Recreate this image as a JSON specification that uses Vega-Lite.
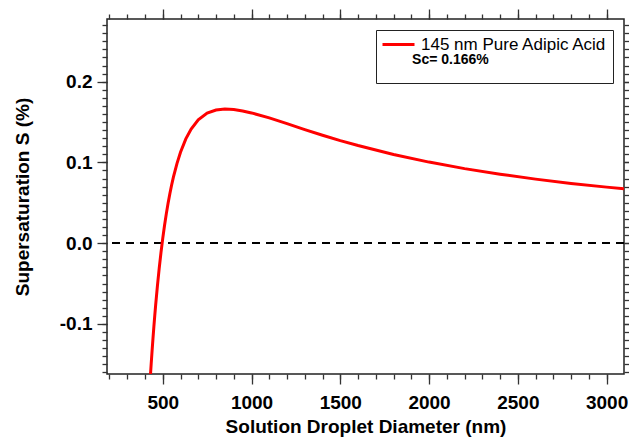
{
  "$schema": "https://vega.github.io/schema/vega-lite/v6.json",
  "autosize": {"type": "none"},
  "padding": {"left": 107, "top": 19, "right": 5, "bottom": 65},
  "width": 517,
  "height": 355,
  "background": "white",
  "config": {
    "font": "Liberation Sans",
    "view": {"stroke": "#222", "strokeWidth": 1.5},
    "axis": {
      "domain": false, "grid": false, "tickColor": "#333", "tickWidth": 1.3,
      "labelColor": "#000", "titleColor": "#000",
      "labelFont": "Liberation Sans", "titleFont": "Liberation Sans",
      "labelFontSize": 19, "labelFontWeight": "bold",
      "titleFontSize": 19, "titleFontWeight": "bold"
    },
    "legend": {
      "labelFont": "Liberation Sans", "titleFont": "Liberation Sans"
    }
  },
  "data": {
    "values": [
      {"d": 430, "s_pct": -0.1659, "series": "145 nm Pure Adipic Acid"},
      {"d": 435, "s_pct": -0.1490, "series": "145 nm Pure Adipic Acid"},
      {"d": 440, "s_pct": -0.1330, "series": "145 nm Pure Adipic Acid"},
      {"d": 445, "s_pct": -0.1178, "series": "145 nm Pure Adipic Acid"},
      {"d": 450, "s_pct": -0.1034, "series": "145 nm Pure Adipic Acid"},
      {"d": 455, "s_pct": -0.0898, "series": "145 nm Pure Adipic Acid"},
      {"d": 460, "s_pct": -0.0768, "series": "145 nm Pure Adipic Acid"},
      {"d": 470, "s_pct": -0.0529, "series": "145 nm Pure Adipic Acid"},
      {"d": 480, "s_pct": -0.0312, "series": "145 nm Pure Adipic Acid"},
      {"d": 490, "s_pct": -0.0117, "series": "145 nm Pure Adipic Acid"},
      {"d": 500, "s_pct": 0.0059, "series": "145 nm Pure Adipic Acid"},
      {"d": 510, "s_pct": 0.0219, "series": "145 nm Pure Adipic Acid"},
      {"d": 520, "s_pct": 0.0363, "series": "145 nm Pure Adipic Acid"},
      {"d": 530, "s_pct": 0.0494, "series": "145 nm Pure Adipic Acid"},
      {"d": 540, "s_pct": 0.0612, "series": "145 nm Pure Adipic Acid"},
      {"d": 550, "s_pct": 0.0720, "series": "145 nm Pure Adipic Acid"},
      {"d": 560, "s_pct": 0.0817, "series": "145 nm Pure Adipic Acid"},
      {"d": 580, "s_pct": 0.0986, "series": "145 nm Pure Adipic Acid"},
      {"d": 600, "s_pct": 0.1126, "series": "145 nm Pure Adipic Acid"},
      {"d": 630, "s_pct": 0.1292, "series": "145 nm Pure Adipic Acid"},
      {"d": 660, "s_pct": 0.1413, "series": "145 nm Pure Adipic Acid"},
      {"d": 700, "s_pct": 0.1527, "series": "145 nm Pure Adipic Acid"},
      {"d": 750, "s_pct": 0.1610, "series": "145 nm Pure Adipic Acid"},
      {"d": 800, "s_pct": 0.1648, "series": "145 nm Pure Adipic Acid"},
      {"d": 850, "s_pct": 0.1660, "series": "145 nm Pure Adipic Acid"},
      {"d": 900, "s_pct": 0.1654, "series": "145 nm Pure Adipic Acid"},
      {"d": 950, "s_pct": 0.1637, "series": "145 nm Pure Adipic Acid"},
      {"d": 1000, "s_pct": 0.1613, "series": "145 nm Pure Adipic Acid"},
      {"d": 1100, "s_pct": 0.1551, "series": "145 nm Pure Adipic Acid"},
      {"d": 1200, "s_pct": 0.1480, "series": "145 nm Pure Adipic Acid"},
      {"d": 1300, "s_pct": 0.1407, "series": "145 nm Pure Adipic Acid"},
      {"d": 1400, "s_pct": 0.1337, "series": "145 nm Pure Adipic Acid"},
      {"d": 1500, "s_pct": 0.1270, "series": "145 nm Pure Adipic Acid"},
      {"d": 1600, "s_pct": 0.1209, "series": "145 nm Pure Adipic Acid"},
      {"d": 1800, "s_pct": 0.1098, "series": "145 nm Pure Adipic Acid"},
      {"d": 2000, "s_pct": 0.1004, "series": "145 nm Pure Adipic Acid"},
      {"d": 2200, "s_pct": 0.0923, "series": "145 nm Pure Adipic Acid"},
      {"d": 2400, "s_pct": 0.0854, "series": "145 nm Pure Adipic Acid"},
      {"d": 2600, "s_pct": 0.0793, "series": "145 nm Pure Adipic Acid"},
      {"d": 2800, "s_pct": 0.0740, "series": "145 nm Pure Adipic Acid"},
      {"d": 3000, "s_pct": 0.0694, "series": "145 nm Pure Adipic Acid"},
      {"d": 3098, "s_pct": 0.0674, "series": "145 nm Pure Adipic Acid"}
    ]
  },
  "layer": [
    {
      "mark": {"type": "rule", "strokeDash": [8, 6], "color": "#000", "strokeWidth": 1.3},
      "encoding": {
        "y": {"datum": 0, "type": "quantitative", "axis": null}
      }
    },
    {
      "mark": {"type": "line", "strokeWidth": 3, "clip": true},
      "encoding": {
        "x": {
          "field": "d", "type": "quantitative",
          "scale": {"domain": [186, 3098], "nice": false, "zero": false},
          "axis": {
            "orient": "bottom", "values": [500, 1000, 1500, 2000, 2500, 3000],
            "tickSize": 10, "labelPadding": 9, "format": "d",
            "title": "Solution Droplet Diameter (nm)", "titlePadding": 5
          }
        },
        "y": {
          "field": "s_pct", "type": "quantitative",
          "scale": {"domain": [-0.162, 0.2776], "nice": false, "zero": false},
          "axis": {
            "orient": "left", "values": [-0.1, 0, 0.1, 0.2],
            "tickSize": 10, "labelPadding": 5, "format": ".1f",
            "labelExpr": "replace(datum.label, '\u2212', '-')",
            "title": "Supersaturation S (%)", "titlePadding": 27
          }
        },
        "color": {
          "field": "series", "type": "nominal",
          "scale": {"range": ["#ff0000"]},
          "legend": {
            "orient": "top-right", "offset": 11,
            "title": ["\u200b\u00a0\u00a0\u00a0\u00a0\u00a0\u00a0\u00a0\u00a0Sc= 0.166%", "\u200b\u00a0"],
            "titleOrient": "bottom", "titleAnchor": "start",
            "titleFontSize": 14, "titleFontWeight": "bold", "titleColor": "#000",
            "titlePadding": 0, "titleLineHeight": 11,
            "labelFontSize": 17, "labelColor": "#000", "labelFontWeight": "normal",
            "labelOffset": 21, "labelLimit": 400,
            "symbolType": "M-1,0H3", "symbolSize": 256, "symbolStrokeWidth": 3,
            "strokeColor": "#222", "padding": 5, "fillColor": "white"
          }
        }
      }
    },
    {
      "mark": {"type": "line", "strokeOpacity": 0},
      "encoding": {
        "x": {"field": "d", "type": "quantitative",
          "axis": {"orient": "bottom", "values": [200,300,400,500,600,700,800,900,1000,1100,1200,1300,1400,1500,1600,1700,1800,1900,2000,2100,2200,2300,2400,2500,2600,2700,2800,2900,3000],
            "tickSize": 5, "labels": false, "title": null}},
        "y": {"field": "s_pct", "type": "quantitative",
          "axis": {"orient": "left", "values": [-0.16,-0.15,-0.14,-0.13,-0.12,-0.11,-0.1,-0.09,-0.08,-0.07,-0.06,-0.05,-0.04,-0.03,-0.02,-0.01,0,0.01,0.02,0.03,0.04,0.05,0.06,0.07,0.08,0.09,0.1,0.11,0.12,0.13,0.14,0.15,0.16,0.17,0.18,0.19,0.2,0.21,0.22,0.23,0.24,0.25,0.26,0.27],
            "tickSize": 5, "labels": false, "title": null}}
      }
    },
    {
      "mark": {"type": "line", "strokeOpacity": 0},
      "encoding": {
        "x": {"field": "d", "type": "quantitative",
          "axis": {"orient": "top", "values": [500, 1000, 1500, 2000, 2500, 3000],
            "tickSize": 10, "labels": false, "title": null}},
        "y": {"field": "s_pct", "type": "quantitative",
          "axis": {"orient": "right", "values": [-0.1, 0, 0.1, 0.2],
            "tickSize": 10, "labels": false, "title": null}}
      }
    },
    {
      "mark": {"type": "line", "strokeOpacity": 0},
      "encoding": {
        "x": {"field": "d", "type": "quantitative",
          "axis": {"orient": "top", "values": [200,300,400,500,600,700,800,900,1000,1100,1200,1300,1400,1500,1600,1700,1800,1900,2000,2100,2200,2300,2400,2500,2600,2700,2800,2900,3000],
            "tickSize": 5, "labels": false, "title": null}},
        "y": {"field": "s_pct", "type": "quantitative",
          "axis": {"orient": "right", "values": [-0.16,-0.15,-0.14,-0.13,-0.12,-0.11,-0.1,-0.09,-0.08,-0.07,-0.06,-0.05,-0.04,-0.03,-0.02,-0.01,0,0.01,0.02,0.03,0.04,0.05,0.06,0.07,0.08,0.09,0.1,0.11,0.12,0.13,0.14,0.15,0.16,0.17,0.18,0.19,0.2,0.21,0.22,0.23,0.24,0.25,0.26,0.27],
            "tickSize": 5, "labels": false, "title": null}}
      }
    }
  ],
  "resolve": {"axis": {"x": "independent", "y": "independent"}}
}
